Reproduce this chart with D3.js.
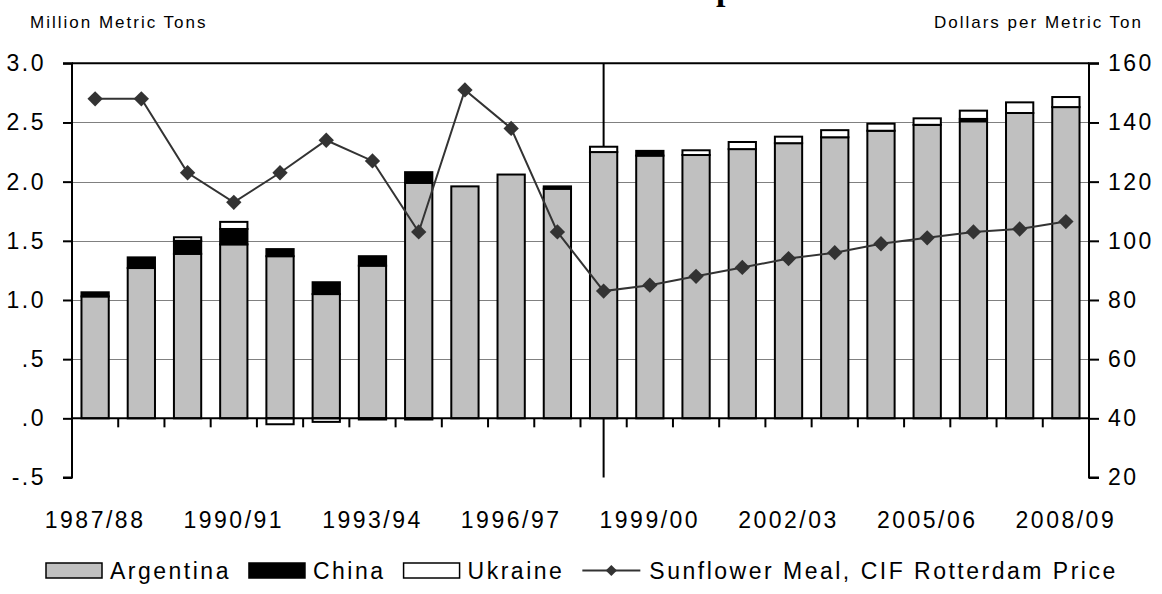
<!DOCTYPE html>
<html>
<head>
<meta charset="utf-8">
<script src="https://cdn.jsdelivr.net/npm/d3@7"></script>
<style>
  html, body { margin: 0; padding: 0; background: #fff; }
  svg { display: block; }
  text { font-family: "Liberation Sans", Arial, sans-serif; fill: #000; }
</style>
</head>
<body>
<svg id="chart" width="1162" height="594"></svg>
<script>
// ---- data ----
const years = ["1987/88","1988/89","1989/90","1990/91","1991/92","1992/93","1993/94","1994/95","1995/96","1996/97","1997/98","1998/99","1999/00","2000/01","2001/02","2002/03","2003/04","2004/05","2005/06","2006/07","2007/08","2008/09"];
const argentina = [1.03,1.27,1.39,1.47,1.37,1.05,1.29,1.99,1.96,2.06,1.94,2.25,2.22,2.225,2.275,2.325,2.375,2.43,2.48,2.51,2.58,2.63];
const china     = [0.035,0.09,0.11,0.13,0.06,0.10,0.08,0.09,0,0,0.02,0,0.04,0,0,0,0,0,0,0.02,0,0];
const ukraine   = [0,0,0.03,0.06,-0.05,-0.03,-0.01,-0.01,0,0,0,0.045,0,0.04,0.06,0.055,0.06,0.06,0.055,0.07,0.09,0.085];
const price     = [148,148,123,113,123,134,127,103,151,138,103,83,85,88,91,94,96,99,101,103,104,106.5];
const leftTicks = [-0.5,0,0.5,1.0,1.5,2.0,2.5,3.0];
const leftTickLabels = ["-.5",".0",".5","1.0","1.5","2.0","2.5","3.0"];
const rightTicks = [20,40,60,80,100,120,140,160];
const xLabelYears = ["1987/88","1990/91","1993/94","1996/97","1999/00","2002/03","2005/06","2008/09"];
const markerYear = "1998/99";
const seriesNames = ["Argentina","China","Ukraine"];
const lineName = "Sunflower Meal, CIF Rotterdam Price";
const titleText = "Sunflower Meal Exports";

// ---- layout ----
const svg = d3.select("#chart");
const L = 72, R = 1089, T = 63.3, B = 477.5;
const x = d3.scaleBand().domain(years).range([L, R]).paddingInner(0.41).paddingOuter(0.205);
const yL = d3.scaleLinear().domain([-0.5, 3.0]).range([B, T]);
const yR = d3.scaleLinear().domain([20, 160]).range([B, T]);
const colors = {Argentina: "#c0c0c0", China: "#000000", Ukraine: "#ffffff"};

// title (cut off at the top edge, as in the reference)
const title = svg.append("text")
  .attr("y", 0)
  .style("font-family", '"Liberation Serif", "Times New Roman", serif')
  .style("font-weight", "bold").style("font-size", "34px")
  .text(titleText);
{
  const idx = titleText.indexOf("p");
  const px = title.node().getStartPositionOfChar(idx).x;
  title.attr("x", 716 - px);
}

// axis titles
svg.append("text").attr("x", 30).attr("y", 28)
  .style("font-size", "17px").style("letter-spacing", "2px").text("Million Metric Tons");
svg.append("text").attr("x", 1143).attr("y", 28).attr("text-anchor", "end")
  .style("font-size", "17px").style("letter-spacing", "2px").text("Dollars per Metric Ton");

// gridlines
svg.append("g").selectAll("line")
  .data(leftTicks.filter(v => v > 0 && v < 3))
  .join("line")
  .attr("x1", L).attr("x2", R)
  .attr("y1", d => Math.round(yL(d)) + 0.5).attr("y2", d => Math.round(yL(d)) + 0.5)
  .attr("stroke", "#808080").attr("stroke-width", 1);

// vertical marker line (behind bars)
const mx = x(markerYear) + x.bandwidth() / 2;
svg.append("line").attr("x1", mx).attr("x2", mx).attr("y1", T).attr("y2", B)
  .attr("stroke", "#000").attr("stroke-width", 2);

// stacked bars
const rows = years.map((y, i) => ({year: y, Argentina: argentina[i], China: china[i], Ukraine: ukraine[i]}));
const stack = d3.stack().keys(seriesNames).offset(d3.stackOffsetDiverging);
const stacked = stack(rows);
const bw = x.bandwidth();
svg.append("g").selectAll("g")
  .data(stacked)
  .join("g")
  .attr("fill", d => colors[d.key])
  .selectAll("rect")
  .data(d => d.filter(s => Math.abs(s[1] - s[0]) > 1e-9))
  .join("rect")
  .attr("x", d => x(d.data.year))
  .attr("width", bw)
  .attr("y", d => yL(Math.max(d[0], d[1])))
  .attr("height", d => Math.abs(yL(d[0]) - yL(d[1])))
  .attr("stroke", "#000").attr("stroke-width", 2);

// top border
svg.append("line").attr("x1", L).attr("x2", R).attr("y1", T).attr("y2", T)
  .attr("stroke", "#000").attr("stroke-width", 2);

// left axis
const leftAxis = d3.axisLeft(yL).tickValues(leftTicks)
  .tickFormat((d, i) => leftTickLabels[i]).tickSize(9).tickPadding(17);
const gL = svg.append("g").attr("transform", `translate(${L},0)`).call(leftAxis);
gL.select(".domain").attr("stroke", "#000").attr("stroke-width", 2).attr("d", `M-9,${T}H0V${B}H-9`);
gL.selectAll(".tick line").attr("stroke", "#000").attr("stroke-width", 2);
gL.selectAll("text").style("font-size", "23px").style("letter-spacing", "2.5px")
  .style("font-family", '"Liberation Sans", Arial, sans-serif').attr("fill", "#000");

// right axis
const rightAxis = d3.axisRight(yR).tickValues(rightTicks).tickSize(10).tickPadding(9);
const gR = svg.append("g").attr("transform", `translate(${R},0)`).call(rightAxis);
gR.select(".domain").attr("stroke", "#000").attr("stroke-width", 2).attr("d", `M10,${T}H0V${B}H10`);
gR.selectAll(".tick line").attr("stroke", "#000").attr("stroke-width", 2);
gR.selectAll("text").style("font-size", "23px").style("letter-spacing", "2.5px")
  .style("font-family", '"Liberation Sans", Arial, sans-serif').attr("fill", "#000");

// x axis at zero
const y0 = yL(0);
svg.append("line").attr("x1", L).attr("x2", R).attr("y1", y0).attr("y2", y0)
  .attr("stroke", "#000").attr("stroke-width", 2);
const step = x.step();
const boundaries = years.slice(1).map(y => x(y) - (step - bw) / 2);
svg.append("g").selectAll("line").data(boundaries).join("line")
  .attr("x1", d => d).attr("x2", d => d).attr("y1", y0).attr("y2", y0 + 9)
  .attr("stroke", "#000").attr("stroke-width", 2);
svg.append("g").selectAll("text").data(xLabelYears).join("text")
  .attr("x", d => x(d) + bw / 2).attr("y", 528).attr("text-anchor", "middle")
  .style("font-size", "23px").style("letter-spacing", "2.5px")
  .text(d => d);

// price line
const line = d3.line().x((d, i) => x(years[i]) + bw / 2).y(d => yR(d));
svg.append("path").datum(price).attr("d", line)
  .attr("fill", "none").attr("stroke", "#333").attr("stroke-width", 2);
const diamond = d3.symbol().type(d3.symbolDiamond2).size(150);
svg.append("g").selectAll("path").data(price).join("path")
  .attr("transform", (d, i) => `translate(${x(years[i]) + bw / 2},${yR(d)})`)
  .attr("d", diamond).attr("fill", "#333");

// legend
const lg = svg.append("g");
const ly = 570.5;
let cx = 46;
const legendFont = {size: "23px", ls: "2.5px"};
seriesNames.forEach(name => {
  lg.append("rect").attr("x", cx).attr("y", ly - 7.5).attr("width", 56).attr("height", 15)
    .attr("fill", colors[name]).attr("stroke", "#000").attr("stroke-width", 1.5);
  const t = lg.append("text").attr("x", cx + 64).attr("y", ly + 8)
    .style("font-size", legendFont.size).style("letter-spacing", legendFont.ls).text(name);
  cx = cx + 64 + t.node().getComputedTextLength() + 18;
});
lg.append("line").attr("x1", cx).attr("x2", cx + 58).attr("y1", ly).attr("y2", ly)
  .attr("stroke", "#333").attr("stroke-width", 2);
lg.append("path").attr("transform", `translate(${cx + 29},${ly})`)
  .attr("d", d3.symbol().type(d3.symbolDiamond2).size(80)).attr("fill", "#333");
lg.append("text").attr("x", cx + 67).attr("y", ly + 8)
  .style("font-size", legendFont.size).style("letter-spacing", legendFont.ls).text(lineName);
</script>
</body>
</html>
